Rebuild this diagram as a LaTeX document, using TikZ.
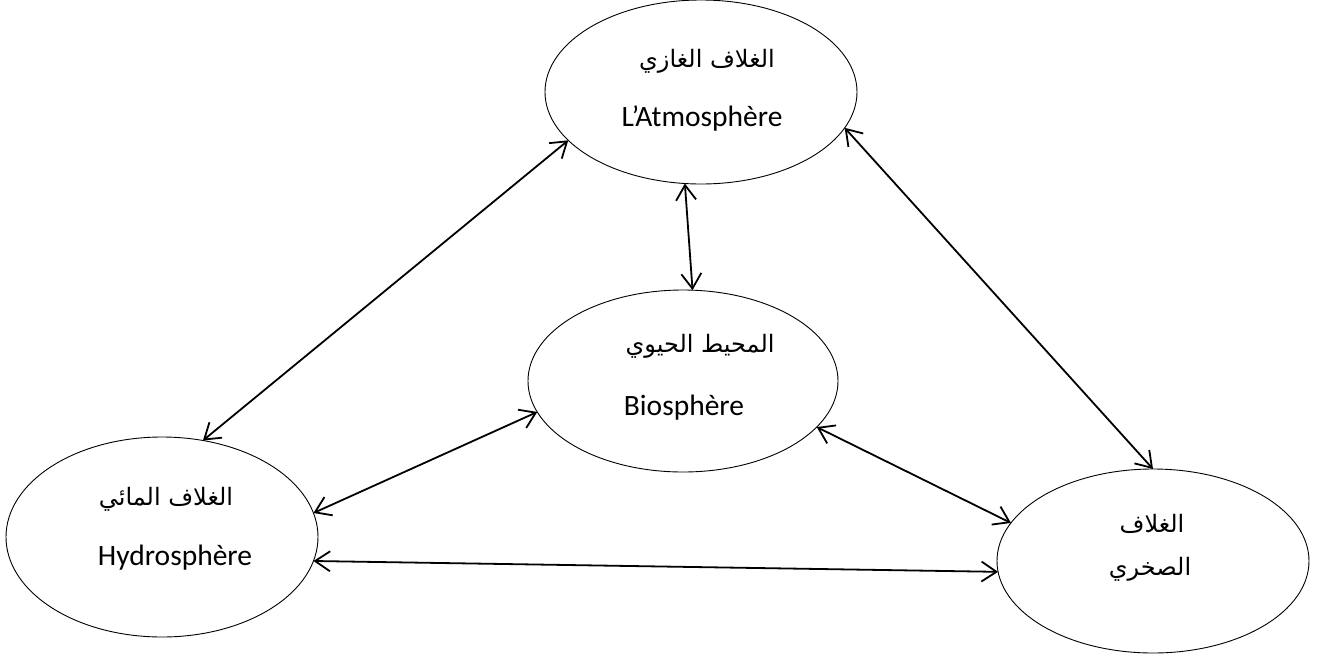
\documentclass[tikz,border=0pt]{standalone}
\usepackage{fontspec}
\setmainfont{Carlito}
\newfontfamily\arabicfont[Script=Arabic]{DejaVu Sans}
\TeXXeTstate=1
\usetikzlibrary{shapes.geometric,arrows.meta}
\begin{document}
\begin{tikzpicture}[x=1pt,y=-1pt,
  sphere/.style={draw=black,line width=0.9pt,ellipse,inner sep=0pt,outer sep=0pt},
  link/.style={line width=1.8pt,{Straight Barb[length=15pt,width=20pt,line width=1.8pt]}-{Straight Barb[length=15pt,width=20pt,line width=1.8pt]}},
  fr/.style={font=\fontsize{29.5}{34}\selectfont,inner sep=0pt},
  ar/.style={font=\arabicfont\fontsize{24}{28}\selectfont,inner sep=0pt}]
\useasboundingbox (0,0) rectangle (1318,657);
% ellipses
\node[sphere,minimum width=312pt,minimum height=184pt] (atmo) at (701,92) {};
\node[sphere,minimum width=310pt,minimum height=182pt] (bio) at (683,381) {};
\node[sphere,minimum width=312pt,minimum height=200pt] (hydro) at (162,537) {};
\node[sphere,minimum width=312pt,minimum height=184pt] (litho) at (1153,561) {};
% labels
\node[ar] (atmoar) at (707,61) {\beginR الغلاف الغازي\endR};
\node[fr] (atmofr) at (702,118) {L’Atmosphère};
\node[ar] (bioar) at (700,346) {\beginR المحيط الحيوي\endR};
\node[fr] (biofr) at (684,408) {Biosphère};
\node[ar] (hydroar) at (166,499) {\beginR الغلاف المائي\endR};
\node[fr] (hydrofr) at (175,558) {Hydrosphère};
\node[ar] (lithoar1) at (1152,524) {\beginR الغلاف\endR};
\node[ar] (lithoar2) at (1150,569) {\beginR الصخري\endR};
% connectors
\draw[link] (hydro.67) -- (atmo.-160.8);
\draw[link] (atmo.-100) -- (bio.84);
\draw[link] (atmo.-14.3) -- (litho.90);
\draw[link] (bio.-19) -- (litho.165.7);
\draw[link] (hydro.9.8) -- (bio.192.7);
\draw[link] (hydro.-9.3) -- (litho.184.4);
\end{tikzpicture}
\end{document}
